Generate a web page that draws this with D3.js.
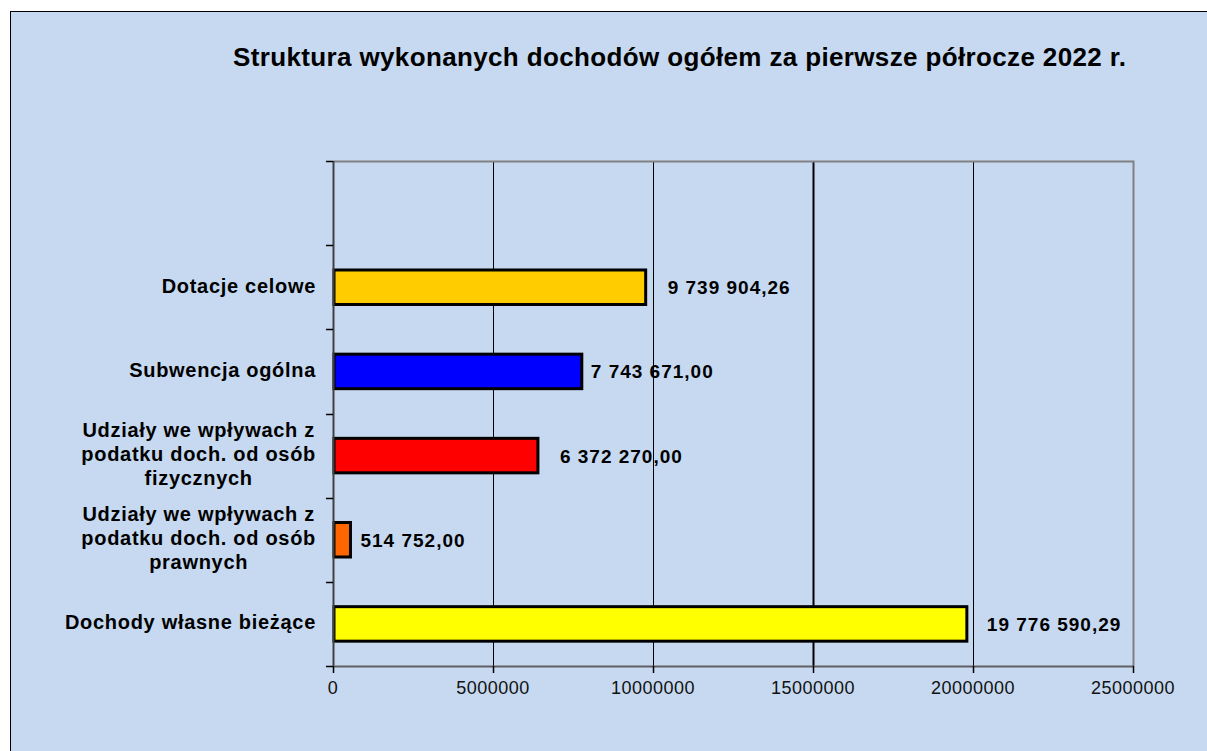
<!DOCTYPE html>
<html><head><meta charset="utf-8">
<script src="https://cdn.jsdelivr.net/npm/d3@7"></script>
<style>
html,body{margin:0;padding:0;background:#fff;}
svg{display:block;font-family:"Liberation Sans",Arial,sans-serif;}
</style></head>
<body>
<svg id="chart" width="1207" height="751"></svg>
<script>
// ---- data ----
const title = "Struktura wykonanych dochodów ogółem za pierwsze półrocze 2022 r.";
const categories = [
  "",
  "Dotacje celowe",
  "Subwencja ogólna",
  "Udziały we wpływach z\npodatku doch. od osób\nfizycznych",
  "Udziały we wpływach z\npodatku doch. od osób\nprawnych",
  "Dochody własne bieżące"
];
const values = [null, 9739904.26, 7743671.00, 6372270.00, 514752.00, 19776590.29];
const colors = [null, "#FFCC00", "#0000FF", "#FF0000", "#FF6600", "#FFFF00"];
const xTicks = [0, 5000000, 10000000, 15000000, 20000000, 25000000];
const labelGap = [0, 23, 10, 23, 11, 21];

// ---- layout ----
const svg = d3.select("#chart");
const W = 1207, H = 751;
const plot = {left: 333, right: 1133, top: 161, bottom: 666};
const bg = "#C6D9F0";

svg.append("rect").attr("x", 10.5).attr("y", 11.5).attr("width", W + 20).attr("height", H + 20)
  .attr("fill", bg).attr("stroke", "#000").attr("stroke-width", 1);

svg.append("text").attr("x", 233).attr("y", 66)
  .attr("font-size", 26).attr("font-weight", "bold").attr("fill", "#000")
  .attr("textLength", 893).attr("lengthAdjust", "spacing")
  .text(title);

const x = d3.scaleLinear().domain([0, 25000000]).range([plot.left, plot.right]);
const y = d3.scaleBand().domain(categories.map((c, i) => i)).range([plot.top, plot.bottom]).padding(0);

// gridlines
svg.append("g").selectAll("line").data(xTicks.slice(1, -1)).join("line")
  .attr("x1", d => Math.round(x(d)) + 0.5).attr("x2", d => Math.round(x(d)) + 0.5)
  .attr("y1", plot.top).attr("y2", plot.bottom)
  .attr("stroke", "#000").attr("stroke-width", d => d === 15000000 ? 2 : 1);

// plot frame top & right (grey)
svg.append("path")
  .attr("d", `M${plot.left},${plot.top + 0.5}H${plot.right + 0.5}V${plot.bottom}`)
  .attr("fill", "none").attr("stroke", "#808080").attr("stroke-width", 2);

// bars
const barH = y.bandwidth() * 0.41;
const idx = values.map((v, i) => i).filter(i => values[i] != null);
svg.append("g").selectAll("rect").data(idx).join("rect")
  .attr("x", x(0) + 1)
  .attr("y", i => y(i) + y.bandwidth() / 2 - barH / 2)
  .attr("width", i => x(values[i]) - x(0))
  .attr("height", barH)
  .attr("fill", i => colors[i]).attr("stroke", "#000").attr("stroke-width", 3);

// value labels
const pl = d3.formatLocale({decimal: ",", thousands: " ", grouping: [3], currency: ["", " zł"]});
const fmt = pl.format(",.2f");
svg.append("g").selectAll("text").data(idx).join("text")
  .attr("x", i => x(values[i]) + labelGap[i])
  .attr("y", i => y(i) + y.bandwidth() / 2 + 2)
  .attr("dominant-baseline", "middle")
  .attr("font-size", 19).attr("font-weight", "bold").attr("letter-spacing", 1).attr("fill", "#000")
  .text(i => fmt(values[i]));

// left axis
const yAxisG = svg.append("g");
yAxisG.append("line").attr("x1", plot.left + 0.5).attr("x2", plot.left + 0.5)
  .attr("y1", plot.top).attr("y2", plot.bottom).attr("stroke", "#404040").attr("stroke-width", 2);
const boundaries = categories.map((c, i) => y(i)).concat([plot.bottom]);
yAxisG.selectAll("line.t").data(boundaries).join("line").attr("class", "t")
  .attr("x1", plot.left - 7).attr("x2", plot.left)
  .attr("y1", d => Math.round(d) + 0.5).attr("y2", d => Math.round(d) + 0.5)
  .attr("stroke", "#000").attr("stroke-width", 1.5);

// category labels
const labelRight = 316;
categories.forEach((c, i) => {
  if (!c) return;
  const lines = c.split("\n");
  const cy = y(i) + y.bandwidth() / 2;
  const lh = 24;
  const g = svg.append("g");
  const t = g.append("text").attr("font-size", 20).attr("font-weight", "bold")
    .attr("letter-spacing", 0.7).attr("fill", "#000").attr("text-anchor", "middle");
  lines.forEach((ln, k) => {
    t.append("tspan").attr("x", 0).attr("y", cy + (k - (lines.length - 1) / 2) * lh)
      .attr("dominant-baseline", "middle").text(ln);
  });
  const maxW = d3.max(t.selectAll("tspan").nodes(), n => n.getComputedTextLength());
  t.attr("transform", `translate(${labelRight - maxW / 2},0)`);
});

// bottom axis
const xAxisG = svg.append("g");
xAxisG.append("line").attr("x1", plot.left).attr("x2", plot.right + 1)
  .attr("y1", plot.bottom + 0.5).attr("y2", plot.bottom + 0.5).attr("stroke", "#606060").attr("stroke-width", 2);
xAxisG.selectAll("line.t").data(xTicks).join("line").attr("class", "t")
  .attr("x1", d => Math.round(x(d)) + 0.5).attr("x2", d => Math.round(x(d)) + 0.5)
  .attr("y1", plot.bottom).attr("y2", plot.bottom + 7)
  .attr("stroke", "#000").attr("stroke-width", 1.5);
xAxisG.selectAll("text").data(xTicks).join("text")
  .attr("x", d => x(d)).attr("y", 689).attr("dominant-baseline", "middle")
  .attr("text-anchor", "middle").attr("font-size", 18).attr("letter-spacing", 0.5).attr("fill", "#111")
  .text(d => String(d));
</script>
</body></html>
